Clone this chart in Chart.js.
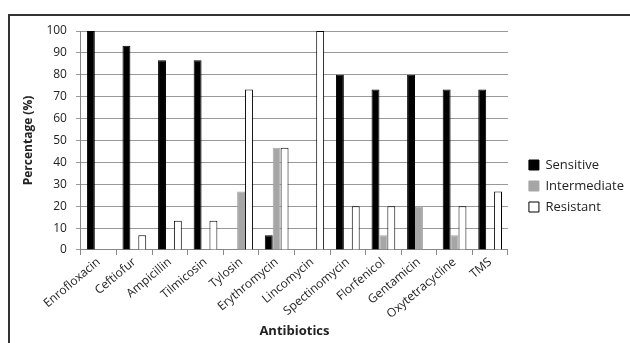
<!DOCTYPE html>
<html>
<head>
<meta charset="utf-8">
<script src="https://cdn.jsdelivr.net/npm/chart.js@4"></script>
<style>
  body { margin: 0; background: #fff; }
  #frame { position: absolute; left: 8px; top: 14px; width: 640px; height: 340px; border-left: 2px solid #333; border-top: 2px solid #333; }
  #wrap { position: absolute; left: 0; top: 0; width: 630px; height: 343px; }
</style>
</head>
<body>
<div id="frame"></div>
<div id="wrap"><canvas id="myChart"></canvas></div>
<script>
const antibiotics = ["Enrofloxacin", "Ceftiofur", "Ampicillin", "Tilmicosin", "Tylosin", "Erythromycin",
  "Lincomycin", "Spectinomycin", "Florfenicol", "Gentamicin", "Oxytetracycline", "TMS"];

const sensitive    = [100, 93.3, 86.7, 86.7, 0, 6.7, 0, 80, 73.3, 80, 73.3, 73.3];
const intermediate = [0, 0, 0, 0, 26.7, 46.7, 0, 0, 6.7, 20, 6.7, 0];
const resistant    = [0, 6.7, 13.3, 13.3, 73.3, 46.7, 100, 20, 20, 0, 20, 26.7];

const font = "'Open Sans', 'Liberation Sans', sans-serif";
Chart.defaults.font.family = font;
Chart.defaults.color = "#222";

// nudge the legend a little right, like the original
const legendShift = {
  id: "legendShift",
  afterUpdate(chart) {
    const leg = chart.legend;
    if (!leg || leg._shifted) return;
    const draw = leg.draw;
    leg.draw = function (area) {
      const ctx = this.ctx;
      ctx.save();
      ctx.translate(13, 1);
      draw.call(this, area);
      ctx.restore();
    };
    leg._shifted = true;
  },
};

const myChart = document.getElementById("myChart");

let barChart = new Chart(myChart, {
  type: "bar",
  data: {
    labels: antibiotics,
    datasets: [
      {
        label: "Sensitive",
        data: sensitive,
        backgroundColor: "#000",
        borderColor: "#000",
        borderWidth: 1,
      },
      {
        label: "Intermediate",
        data: intermediate,
        backgroundColor: "#a6a6a6",
        borderColor: "#a6a6a6",
        borderWidth: 1,
      },
      {
        label: "Resistant",
        data: resistant,
        backgroundColor: "#fff",
        borderColor: "#000",
        borderWidth: 1,
      },
    ],
  },
  plugins: [legendShift],
  options: {
    responsive: true,
    maintainAspectRatio: false,
    animation: false,
    layout: { padding: { top: 31, left: 17, right: 9, bottom: 4 } },
    datasets: { bar: { barPercentage: 1, categoryPercentage: 0.667 } },
    plugins: {
      tooltip: { enabled: false },
      legend: {
        position: "right",
        labels: {
          boxWidth: 10,
          boxHeight: 10,
          padding: 8,
          font: { size: 13 },
          color: "#222",
        },
      },
    },
    scales: {
      x: {
        grid: { drawOnChartArea: false, drawTicks: true, tickLength: 5, color: "#888" },
        border: { color: "#888" },
        ticks: { minRotation: 40, maxRotation: 40, font: { size: 12 }, padding: 0 },
        title: { display: true, text: "Antibiotics", font: { size: 13, weight: "bold" }, padding: { top: 2, bottom: 0 } },
      },
      y: {
        min: 0,
        max: 100,
        grid: { color: "#999", tickLength: 5 },
        border: { color: "#888" },
        ticks: { stepSize: 10, font: { size: 12 }, padding: 9 },
        title: { display: true, text: "Percentage (%)", font: { size: 12, weight: "bold" }, padding: { top: 4, bottom: 2 } },
      },
    },
  },
});
</script>
</body>
</html>
